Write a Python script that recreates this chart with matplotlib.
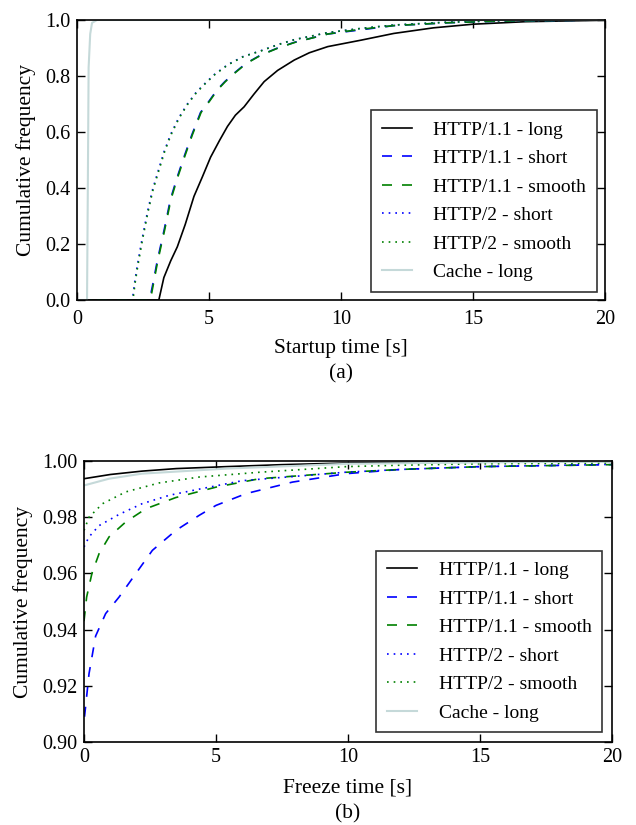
import numpy as np
import matplotlib
matplotlib.use("Agg")
import matplotlib.pyplot as plt

plt.rcParams['font.family'] = ['Liberation Serif', 'DejaVu Serif']

labels = ["HTTP/1.1 - long", "HTTP/1.1 - short", "HTTP/1.1 - smooth",
          "HTTP/2 - short", "HTTP/2 - smooth", "Cache - long"]

# ---- (a) startup time CDFs ----
a_h11_long_x = [0, 3.1, 3.29, 3.55, 3.8, 4.1, 4.43, 4.75, 5.06, 5.4, 5.7, 6.0, 6.33, 6.7, 7.09,
                7.6, 8.23, 8.8, 9.5, 10.76, 12, 13.5, 15, 17, 20]
a_h11_long_y = [0, 0, 0.08, 0.14, 0.19, 0.27, 0.37, 0.44, 0.51, 0.57, 0.62, 0.66, 0.69, 0.735, 0.78,
                0.82, 0.857, 0.883, 0.905, 0.928, 0.952, 0.972, 0.985, 0.994, 0.999]
a_h11_short_x = [0, 2.75, 2.9, 3.04, 3.3, 3.54, 3.8, 4.05, 4.35, 4.68, 5.0, 5.3, 5.6, 5.95, 6.4,
                 6.96, 7.6, 8.23, 9.5, 10.76, 12, 14, 16, 20]
a_h11_short_y = [0, 0, 0.07, 0.14, 0.25, 0.36, 0.44, 0.51, 0.59, 0.67, 0.71, 0.75, 0.78, 0.81, 0.845,
                 0.875, 0.9, 0.92, 0.95, 0.965, 0.98, 0.99, 0.996, 1.0]
a_h11_smooth_x = [0, 2.78, 2.92, 3.06, 3.32, 3.56, 3.82, 4.07, 4.37, 4.7, 5.02, 5.32, 5.62, 5.97, 6.42,
                  6.98, 7.62, 8.25, 9.5, 10.76, 12, 14, 16, 20]
a_h11_smooth_y = [0, 0, 0.07, 0.14, 0.25, 0.36, 0.44, 0.51, 0.59, 0.67, 0.71, 0.75, 0.78, 0.81, 0.845,
                  0.875, 0.9, 0.92, 0.95, 0.967, 0.98, 0.99, 0.996, 1.0]
a_h2_short_x = [0, 2.1, 2.18, 2.28, 2.45, 2.66, 2.85, 3.04, 3.3, 3.54, 3.85, 4.18, 4.5, 4.81, 5.2,
                5.7, 6.3, 6.96, 7.6, 8.23, 9.5, 10.76, 12, 14, 16, 20]
a_h2_short_y = [0, 0, 0.06, 0.12, 0.21, 0.31, 0.39, 0.45, 0.53, 0.59, 0.65, 0.70, 0.74, 0.77, 0.805,
                0.84, 0.87, 0.89, 0.912, 0.93, 0.955, 0.97, 0.982, 0.992, 0.997, 1.0]
a_h2_smooth_x = [0, 2.12, 2.2, 2.3, 2.47, 2.68, 2.87, 3.06, 3.32, 3.56, 3.87, 4.2, 4.52, 4.83, 5.22,
                 5.72, 6.32, 6.98, 7.62, 8.25, 9.5, 10.76, 12, 14, 16, 20]
a_h2_smooth_y = [0, 0, 0.06, 0.12, 0.21, 0.31, 0.39, 0.45, 0.53, 0.59, 0.65, 0.70, 0.74, 0.77, 0.805,
                 0.84, 0.87, 0.89, 0.912, 0.93, 0.955, 0.97, 0.982, 0.992, 0.997, 1.0]
a_cache_x = [0, 0.38, 0.41, 0.44, 0.5, 0.57, 0.76, 20]
a_cache_y = [0, 0, 0.4, 0.83, 0.95, 0.99, 1.0, 1.0]

# ---- (b) freeze time CDFs ----
b_h11_long_x = [0, 1.0, 2.2, 3.5, 5.4, 7.5, 10, 15, 20]
b_h11_long_y = [0.9937, 0.9952, 0.9964, 0.9973, 0.998, 0.9987, 0.9993, 0.9997, 0.9999]
b_h11_short_x = [0.02, 0.19, 0.44, 0.82, 1.33, 1.96, 2.59, 3.48, 4.37, 5.0, 6.14, 7.9, 9.94,
                 12, 15, 20]
b_h11_short_y = [0.909, 0.9243, 0.9377, 0.9457, 0.9516, 0.9599, 0.9682, 0.9753, 0.9807, 0.9842,
                 0.9884, 0.9925, 0.9955, 0.997, 0.998, 0.9987]
b_h11_smooth_x = [0, 0.1, 0.3, 0.57, 0.95, 1.58, 2.34, 3.48, 5.0, 6.65, 9.94, 12, 15, 20]
b_h11_smooth_y = [0.943, 0.9516, 0.96, 0.967, 0.973, 0.9783, 0.983, 0.987, 0.9907, 0.9937, 0.996,
                  0.997, 0.998, 0.9987]
b_h2_short_x = [0, 0.19, 0.57, 1.33, 2.2, 3.23, 4.37, 6.0, 9.9, 12, 15, 20]
b_h2_short_y = [0.9694, 0.973, 0.977, 0.981, 0.9848, 0.9878, 0.990, 0.993, 0.996, 0.997, 0.998, 0.9988]
b_h2_smooth_x = [0, 0.19, 0.7, 1.58, 2.85, 4.37, 6.65, 9.94, 12, 15, 20]
b_h2_smooth_y = [0.9753, 0.980, 0.9848, 0.989, 0.9922, 0.9943, 0.996, 0.998, 0.9985, 0.999, 0.9993]
b_cache_x = [0, 0.95, 2.2, 5.4, 10, 15, 20]
b_cache_y = [0.9913, 0.9937, 0.9955, 0.9973, 0.999, 0.9995, 0.9998]

cache_color = '#c5d9d9'
styles = [
    dict(color='black', linestyle='-', lw=1.2),
    dict(color='blue', linestyle=(0, (6, 6)), lw=1.2),
    dict(color='green', linestyle=(0, (6, 6)), lw=1.2),
    dict(color='blue', linestyle=(0, (1, 3)), lw=1.2),
    dict(color='green', linestyle=(0, (1, 3)), lw=1.2),
    dict(color=cache_color, linestyle='-', lw=1.5),
]

W, H = 636, 825
fig = plt.figure(figsize=(W / 100, H / 100), dpi=100)
# axes rectangles from pixel boxes (left, top, right, bottom)
def rect(l, t, r, b):
    return [l / W, 1 - b / H, (r - l) / W, (b - t) / H]

ax1 = fig.add_axes(rect(77, 20, 605, 300))
ax2 = fig.add_axes(rect(84, 461, 612, 742))

data_a = [(a_h11_long_x, a_h11_long_y), (a_h11_short_x, a_h11_short_y),
          (a_h11_smooth_x, a_h11_smooth_y), (a_h2_short_x, a_h2_short_y),
          (a_h2_smooth_x, a_h2_smooth_y), (a_cache_x, a_cache_y)]
data_b = [(b_h11_long_x, b_h11_long_y), (b_h11_short_x, b_h11_short_y),
          (b_h11_smooth_x, b_h11_smooth_y), (b_h2_short_x, b_h2_short_y),
          (b_h2_smooth_x, b_h2_smooth_y), (b_cache_x, b_cache_y)]

tick_fs = 14.5
lab_fs = 15.5
leg_fs = 14
for ax, data, ylim, yticks, yfmt, xpad, bax in [
        (ax1, data_a, (0, 1.0), np.arange(0, 1.01, 0.2), "{:.1f}", 7, 0.42),
        (ax2, data_b, (0.90, 1.0), np.arange(0.90, 1.001, 0.02), "{:.2f}", 4, 0.5)]:
    for (x, y), lab, st in zip(data, labels, styles):
        ax.plot(x, y, label=lab, **st)
    ax.set_xlim(0, 20)
    ax.set_ylim(*ylim)
    ax.set_xticks([0, 5, 10, 15, 20])
    ax.set_yticks(yticks)
    ax.set_yticklabels([yfmt.format(v) for v in yticks])
    ax.tick_params(direction='in', top=True, right=True, length=6, width=1,
                   labelsize=tick_fs)
    ax.tick_params(axis='x', pad=xpad)
    ax.tick_params(axis='y', pad=5)
    for s in ax.spines.values():
        s.set_linewidth(1.2)
    ax.set_ylabel("Cumulative frequency", fontsize=lab_fs, labelpad=6)
    leg = ax.legend(loc='lower right', fontsize=leg_fs, frameon=True, fancybox=False,
                    handlelength=1.55, borderpad=0.55, labelspacing=0.56,
                    borderaxespad=bax, handletextpad=1.1)
    leg.get_frame().set_edgecolor('black')
    leg.get_frame().set_linewidth(1.2)

fig.text(341 / W, 1 - 353 / H, "Startup time [s]", ha='center', va='baseline', fontsize=lab_fs)
fig.text(341 / W, 1 - 378 / H, "(a)", ha='center', va='baseline', fontsize=lab_fs)
fig.text(348 / W, 1 - 793 / H, "Freeze time [s]", ha='center', va='baseline', fontsize=lab_fs)
fig.text(348 / W, 1 - 818 / H, "(b)", ha='center', va='baseline', fontsize=lab_fs)

fig.savefig("out.png", dpi=100, facecolor='white')
